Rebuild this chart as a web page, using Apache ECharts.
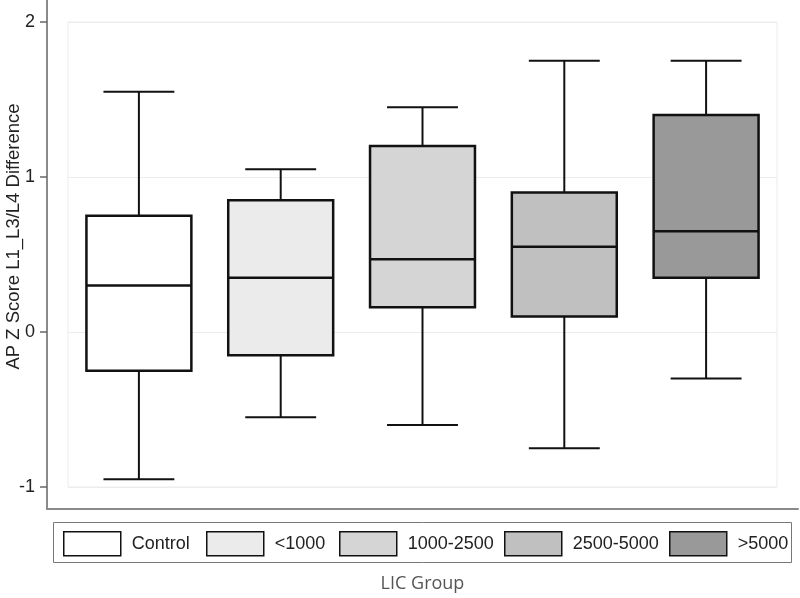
<!DOCTYPE html>
<html>
<head>
<meta charset="utf-8">
<script src="https://cdn.jsdelivr.net/npm/echarts@6/dist/echarts.min.js"></script>
<style>
  html, body { margin: 0; padding: 0; background: #fff; }
  #chart { width: 800px; height: 598px; }
</style>
</head>
<body>
<div id="chart"></div>
<script>
// groups and box statistics
var groups = ['Control', '<1000', '1000-2500', '2500-5000', '>5000'];
var lowWhisker = [-0.95, -0.55, -0.60, -0.75, -0.30];
var q1 = [-0.25, -0.15, 0.16, 0.10, 0.35];
var median = [0.30, 0.35, 0.47, 0.55, 0.65];
var q3 = [0.75, 0.85, 1.20, 0.90, 1.40];
var highWhisker = [1.55, 1.05, 1.45, 1.75, 1.75];
var fills = ['#ffffff', '#ebebeb', '#d5d5d5', '#c0c0c0', '#999999'];
var yTicks = [-1, 0, 1, 2];
var legendLeft = [63, 206, 339, 504, 669];

var mychart = echarts.init(document.getElementById('chart'));
var FONT = '"Liberation Sans", Arial, sans-serif';

// box + whiskers drawn per group
function renderBox(params, api) {
    var idx = api.value(0);
    var band = api.size([1, 0])[0];
    var bw = band * 0.74;
    var cw = band * 0.5;
    var pMin = api.coord([idx, api.value(1)]);
    var pQ1 = api.coord([idx, api.value(2)]);
    var pMed = api.coord([idx, api.value(3)]);
    var pQ3 = api.coord([idx, api.value(4)]);
    var pMax = api.coord([idx, api.value(5)]);
    var cx = pMed[0];
    var ink = '#111';
    function seg(x1, y1, x2, y2, w) {
        return {type: 'line', shape: {x1: x1, y1: y1, x2: x2, y2: y2}, style: {stroke: ink, lineWidth: w}};
    }
    return {
        type: 'group',
        children: [
            seg(cx, pMax[1], cx, pQ3[1], 2),
            seg(cx, pMin[1], cx, pQ1[1], 2),
            seg(cx - cw / 2, pMax[1], cx + cw / 2, pMax[1], 2.2),
            seg(cx - cw / 2, pMin[1], cx + cw / 2, pMin[1], 2.2),
            {
                type: 'rect',
                shape: {x: cx - bw / 2, y: pQ3[1], width: bw, height: pQ1[1] - pQ3[1]},
                style: {fill: api.visual('color'), stroke: ink, lineWidth: 2.5}
            },
            seg(cx - bw / 2, pMed[1], cx + bw / 2, pMed[1], 2.5)
        ]
    };
}

var series = groups.map(function (g, i) {
    return {
        name: g,
        type: 'custom',
        xAxisIndex: 1,
        yAxisIndex: 1,
        renderItem: renderBox,
        itemStyle: {color: fills[i]},
        encode: {x: 0, y: [1, 2, 3, 4, 5]},
        data: [[i, lowWhisker[i], q1[i], median[i], q3[i], highWhisker[i]]]
    };
});

var legends = groups.map(function (g, i) {
    return {
        left: legendLeft[i],
        top: 531,
        padding: 0,
        icon: 'rect',
        itemWidth: 57,
        itemHeight: 24,
        selectedMode: false,
        data: [{name: g, itemStyle: {color: fills[i], borderColor: '#111', borderWidth: 1.5}}],
        textStyle: {fontFamily: FONT, fontSize: 18, color: '#222', padding: [0, 0, 0, 6]}
    };
});

var option = {
    backgroundColor: '#fff',
    animation: false,
    legend: legends,
    graphic: [{
        type: 'rect',
        shape: {x: 53.5, y: 522.5, width: 738, height: 40},
        style: {fill: 'none', stroke: '#777', lineWidth: 1}
    }],
    grid: [
        {left: 47, right: 2, top: 0, bottom: 89, outerBoundsMode: 'none'},
        {left: 68, right: 23, top: 22, bottom: 111, outerBoundsMode: 'none',
            show: true, borderColor: '#ececec', borderWidth: 1}
    ],
    xAxis: [
        {
            gridIndex: 0, type: 'value', min: 0, max: 1,
            axisLine: {show: true, lineStyle: {color: '#8a8a8a', width: 2}},
            axisTick: {show: false}, axisLabel: {show: false}, splitLine: {show: false},
            name: 'LIC Group', nameLocation: 'middle', nameGap: 66,
            nameTextStyle: {fontFamily: '"Open Sans", sans-serif', fontSize: 18, color: '#555'}
        },
        {
            gridIndex: 1, type: 'category', data: groups,
            axisLine: {show: false}, axisTick: {show: false}, axisLabel: {show: false}, splitLine: {show: false}
        }
    ],
    yAxis: [
        {
            gridIndex: 0, type: 'value', min: 0, max: 1,
            axisLine: {show: true, lineStyle: {color: '#8a8a8a', width: 2}},
            axisTick: {show: false}, axisLabel: {show: false}, splitLine: {show: false}
        },
        {
            gridIndex: 1, type: 'value',
            min: yTicks[0], max: yTicks[yTicks.length - 1], interval: 1,
            offset: 21,
            axisLine: {show: false},
            axisTick: {show: false},
            axisLabel: {
                margin: 0,
                // label text followed by a short outward tick mark
                formatter: function (v) { return '{v|' + v + '}{t|}'; },
                rich: {
                    v: {fontFamily: FONT, fontSize: 18, color: '#222', padding: [0, 5, 0, 0]},
                    t: {width: 7, height: 1.5, backgroundColor: '#666', verticalAlign: 'middle'}
                }
            },
            splitLine: {show: true, lineStyle: {color: '#ececec', width: 1}},
            name: 'AP Z Score L1_L3/L4 Difference',
            nameLocation: 'middle', nameGap: 24, nameRotate: 90, nameMoveOverlap: false,
            nameTextStyle: {fontFamily: FONT, fontSize: 18.5, color: '#222', padding: [0, 0, 0, 36]}
        }
    ],
    series: series
};

mychart.setOption(option);
</script>
</body>
</html>
